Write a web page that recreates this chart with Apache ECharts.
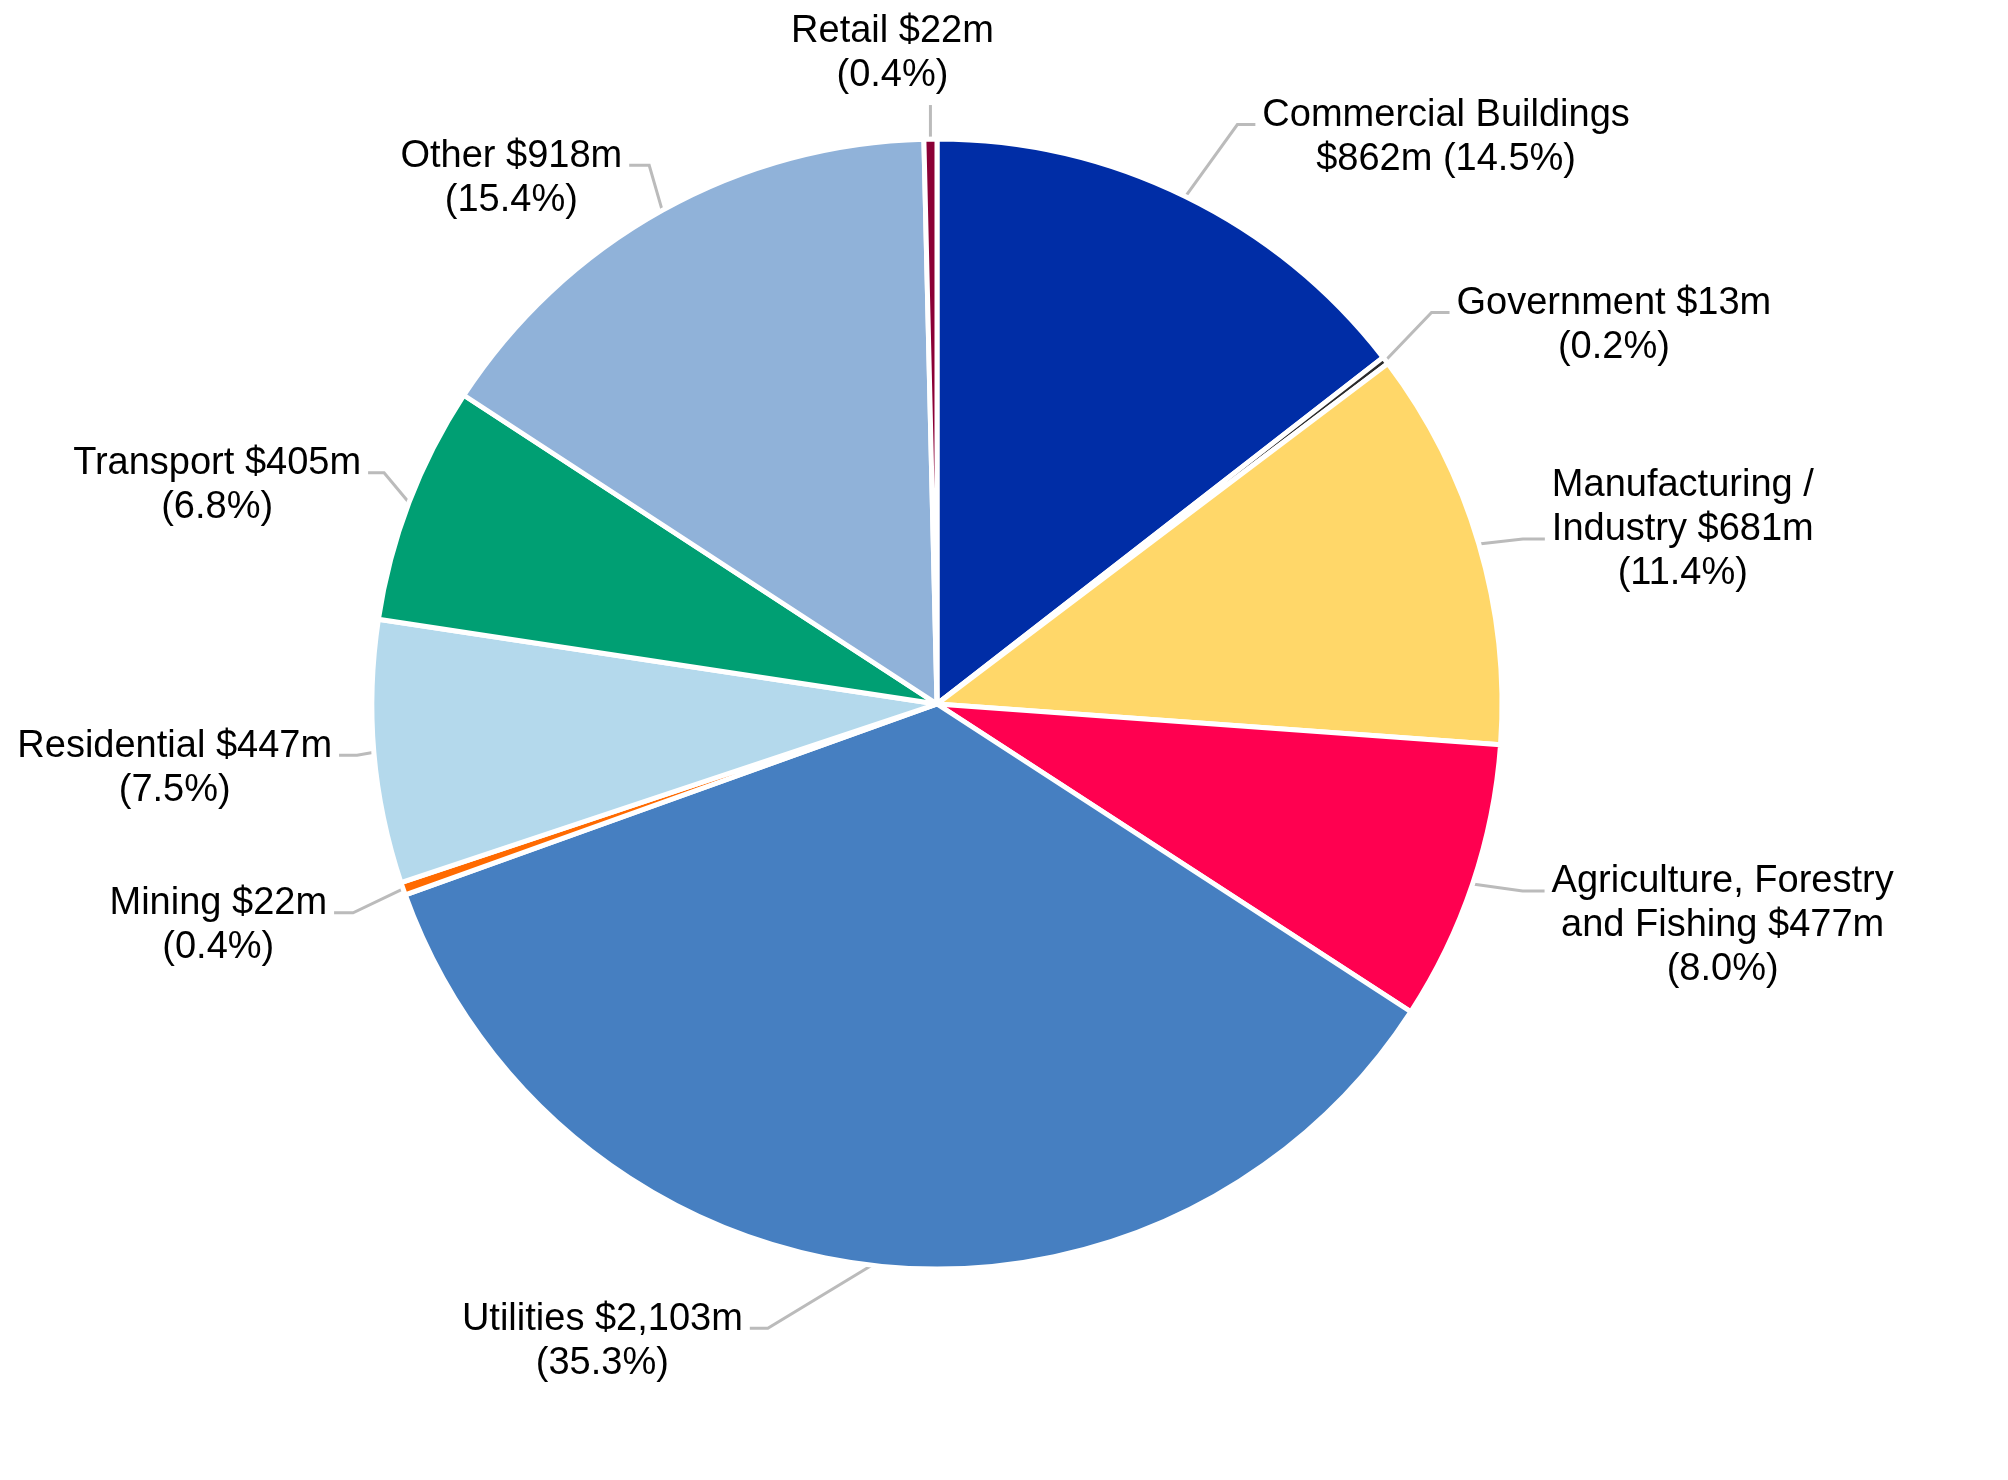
<!DOCTYPE html>
<html>
<head>
<meta charset="utf-8">
<script src="https://cdn.jsdelivr.net/npm/echarts@6/dist/echarts.min.js"></script>
<style>
  html, body { margin: 0; padding: 0; background: #fff; }
  #chart { width: 2008px; height: 1480px; }
</style>
</head>
<body>
<div id="chart"></div>
<script>
// slices, clockwise from 12 o'clock
var sectors = ['Commercial Buildings', 'Government', 'Manufacturing / Industry',
  'Agriculture, Forestry and Fishing', 'Utilities', 'Mining', 'Residential',
  'Transport', 'Other', 'Retail'];
var amounts = [862, 13, 681, 477, 2103, 22, 447, 405, 918, 22];   // $m
var colors = ['#002DA6', '#2b2b2b', '#FFD769', '#FF0050', '#467FC1',
  '#FF6A00', '#B4D9EC', '#009F73', '#90B2D9', '#8B0036'];
// how each label wraps in the picture ({v} = amount, {p} = share)
var labelForms = [
  'Commercial Buildings\n{v} ({p})',
  'Government {v}\n({p})',
  'Manufacturing /\nIndustry {v}\n({p})',
  'Agriculture, Forestry\nand Fishing {v}\n({p})',
  'Utilities {v}\n({p})',
  'Mining {v}\n({p})',
  'Residential {v}\n({p})',
  'Transport {v}\n({p})',
  'Other {v}\n({p})',
  'Retail {v}\n({p})'
];

var total = amounts.reduce(function(a, b) { return a + b; }, 0);

function labelText(i) {
  var v = '$' + amounts[i].toLocaleString('en-US') + 'm';
  var p = (amounts[i] / total * 100).toFixed(1) + '%';
  return labelForms[i].replace('{v}', v).replace('{p}', p);
}

var cx = 937, cy = 704, r = 565;
var fontSize = 38, lineH = 44, textGap = 7;

// leader line bends: offset of the elbow from the slice edge, length of the flat part,
// and which text row the line points at
var leaders = [
  { dx: 52, dy: -72, h: 18, row: 0 },
  { dx: 46, dy: -48, h: 18, row: 0 },
  { dx: 44, dy: -5, h: 22, row: 1 },
  { dx: 50, dy: 7, h: 22, row: 0 },
  { dx: -104, dy: 63, h: 18, row: 0 },
  { dx: -50, dy: 24, h: 19, row: 0 },
  { dx: -17, dy: 3, h: 18, row: 0 },
  { dx: -25, dy: -30, h: 16, row: 0 },
  { dx: -13, dy: -45, h: 20, row: 0 },
  { dx: 0, dy: -34, h: 0, row: -1, shift: -38 }
];

function edgePoint(i) {
  var before = 0;
  for (var k = 0; k < i; k++) before += amounts[k];
  var a = (before + amounts[i] / 2) / total * Math.PI * 2;
  return [cx + r * Math.sin(a), cy - r * Math.cos(a)];
}

var seriesData = sectors.map(function(name, i) {
  return { name: name, value: amounts[i], itemStyle: { color: colors[i] } };
});

var chart = echarts.init(document.getElementById('chart'));
chart.setOption({
  animation: false,
  backgroundColor: '#fff',
  series: [{
    type: 'pie',
    center: [cx, cy],
    radius: r,
    startAngle: 90,
    clockwise: true,
    avoidLabelOverlap: false,
    silent: true,
    data: seriesData,
    itemStyle: { borderColor: '#fff', borderWidth: 5 },
    label: {
      show: true,
      position: 'outside',
      color: '#000',
      fontFamily: 'Liberation Sans, Arial, sans-serif',
      fontSize: fontSize,
      lineHeight: lineH,
      formatter: function(p) { return labelText(p.dataIndex); }
    },
    labelLine: {
      show: true,
      length: 30,
      length2: 20,
      lineStyle: { color: '#BBBBBB', width: 3 }
    },
    labelLayout: function(params) {
      var i = params.dataIndex;
      var L = leaders[i];
      var p0 = edgePoint(i);
      var p1 = [p0[0] + L.dx, p0[1] + L.dy];
      var w = params.labelRect.width;
      if (L.row < 0) {
        // label sits above the line
        return {
          x: p1[0] + L.shift,
          y: p1[1] - 21 - 31 - lineH,
          align: 'center',
          verticalAlign: 'top',
          labelLinePoints: [p0, p1, p1]
        };
      }
      var side = L.dx >= 0 ? 1 : -1;
      var p2 = [p1[0] + side * L.h, p1[1]];
      return {
        x: p2[0] + side * (textGap + w / 2),
        y: p1[1] - 31 - lineH * L.row,
        align: 'center',
        verticalAlign: 'top',
        labelLinePoints: [p0, p1, p2]
      };
    }
  }]
});
</script>
</body>
</html>
